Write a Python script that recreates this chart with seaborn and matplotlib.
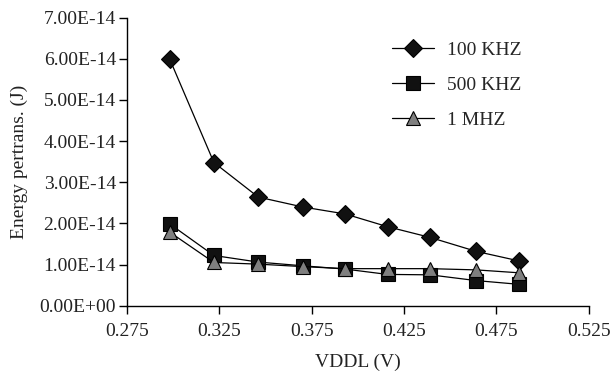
import numpy as np
import pandas as pd
import seaborn as sns
import matplotlib
matplotlib.use("Agg")
import matplotlib.pyplot as plt
from matplotlib.ticker import MultipleLocator, FuncFormatter

#Data----------------------------------------------------------------------------
vddl = [0.298, 0.322, 0.346, 0.370, 0.393, 0.416, 0.439, 0.464, 0.487]
e_100khz = [6.00e-14, 3.48e-14, 2.64e-14, 2.40e-14, 2.23e-14, 1.92e-14, 1.66e-14, 1.32e-14, 1.09e-14]
e_500khz = [1.99e-14, 1.22e-14, 1.06e-14, 0.97e-14, 0.89e-14, 0.76e-14, 0.75e-14, 0.61e-14, 0.52e-14]
e_1mhz = [1.79e-14, 1.05e-14, 1.01e-14, 0.95e-14, 0.90e-14, 0.90e-14, 0.90e-14, 0.87e-14, 0.80e-14]
series_names = ["100 KHZ", "500 KHZ", "1 MHZ"]
x_ticks = [0.275, 0.325, 0.375, 0.425, 0.475, 0.525]

#Styling per series (marker, size, face colour)
styles = {
    "100 KHZ": ("D", 8.8, "#111111"),
    "500 KHZ": ("s", 10, "#111111"),
    "1 MHZ": ("^", 10, "#7f7f7f"),
}

sns.set_theme(style="ticks")
plt.rcParams["font.family"] = ["Liberation Serif", "DejaVu Serif"]

fig = plt.figure(figsize=(6.14, 3.76), dpi=100)
ax = fig.add_axes([0.207, 0.187, 0.752, 0.766])

for name, vals in zip(series_names, [e_100khz, e_500khz, e_1mhz]):
    m, ms, fc = styles[name]
    sns.lineplot(x=vddl, y=vals, ax=ax, color="black", linewidth=0.9,
                 marker=m, markersize=ms, markerfacecolor=fc,
                 markeredgecolor="black", markeredgewidth=0.8, label=name)

ax.set_xlim(0.275, 0.525)
ax.set_ylim(0, 7e-14)
ax.set_xticks(x_ticks)
ax.set_xticklabels([f"{t:.3f}" for t in x_ticks])
ax.yaxis.set_major_locator(MultipleLocator(1e-14))
ax.yaxis.set_major_formatter(FuncFormatter(lambda v, p: "{:.2E}".format(v)))
ax.tick_params(axis="both", labelsize=14, direction="out", length=6, width=1, color="black", labelcolor="#222222")
ax.tick_params(axis="x", pad=6.5)
ax.tick_params(axis="y", pad=2)
ax.yaxis.offsetText.set_visible(False)

sns.despine(ax=ax)
for s in ["left", "bottom"]:
    ax.spines[s].set_color("black")
    ax.spines[s].set_linewidth(1)

ax.set_xlabel("VDDL (V)", fontsize=14, color="#222222", labelpad=10)
ax.set_ylabel("Energy pertrans. (J)", fontsize=14, color="#222222", labelpad=8)

leg = ax.legend(loc="upper left", bbox_to_anchor=(0.535, 0.98), frameon=False,
                fontsize=14, handlelength=2.2, labelspacing=0.9, handletextpad=0.65)

fig.savefig("out.png", dpi=100)
